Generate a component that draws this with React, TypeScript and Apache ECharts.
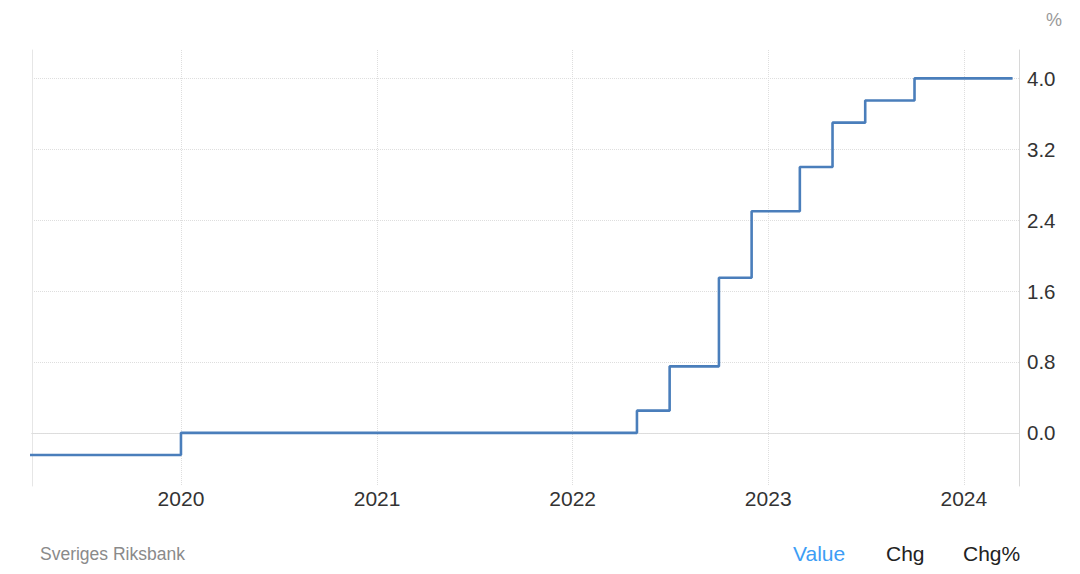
import React, { useEffect, useRef } from "react";
import * as echarts from "echarts";

// Policy rate change points (date the new rate starts, rate in %)
const changeDates = [
  "2019-03-01",
  "2020-01-01",
  "2022-05-01",
  "2022-07-01",
  "2022-10-01",
  "2022-12-01",
  "2023-03-01",
  "2023-05-01",
  "2023-07-01",
  "2023-10-01",
  "2024-04-01",
];
const rates = [-0.25, 0, 0.25, 0.75, 1.75, 2.5, 3.0, 3.5, 3.75, 4.0, 4.0];

const yearTicks = ["2020-01-01", "2021-01-01", "2022-01-01", "2023-01-01", "2024-01-01"];
const valueTicks = [0, 0.8, 1.6, 2.4, 3.2, 4.0];

const xMin = "2019-03-29";
const xMax = "2024-04-13";
const yMin = -0.6;
const yMax = 4.32;

const sourceLabel = "Sveriges Riksbank";
const unitLabel = "%";
const tabLabels = ["Value", "Chg", "Chg%"];

const FONT = "'Liberation Sans', Arial, sans-serif";

const ts = (d: string) => Date.parse(d + "T00:00:00Z");

export default function App() {
  const ref = useRef<HTMLDivElement>(null);

  useEffect(() => {
    if (!ref.current) return;
    const chart = echarts.init(ref.current, null, { renderer: "svg" });
    const seriesData = changeDates.map((d, i) => [ts(d), rates[i]]);
    const yearTs = yearTicks.map(ts);
    const gridColor = "#dedede";

    chart.setOption({
      animation: false,
      backgroundColor: "#ffffff",
      textStyle: { fontFamily: FONT },
      grid: { left: 32, right: 61, top: 50, bottom: 88, show: false },
      xAxis: [
        {
          type: "value",
          min: ts(xMin),
          max: ts(xMax),
          position: "bottom",
          axisLine: { show: true, lineStyle: { color: "#d8d8d8", width: 1 } },
          axisTick: { show: false, customValues: yearTs },
          axisLabel: {
            customValues: yearTs,
            formatter: (v: number) => String(new Date(v).getUTCFullYear()),
            color: "#333333",
            fontSize: 21,
            fontFamily: FONT,
            margin: 2,
            hideOverlap: false,
            showMinLabel: true,
            showMaxLabel: true,
          },
          splitLine: { show: true, lineStyle: { color: gridColor, type: "dotted", width: 1 } },
        },
        {
          type: "value",
          min: ts(xMin),
          max: ts(xMax),
          position: "top",
          axisLine: { show: true, lineStyle: { color: gridColor, type: "dotted", width: 1 } },
          axisTick: { show: false },
          axisLabel: { show: false },
          splitLine: { show: false },
        },
      ],
      yAxis: [
        {
          type: "value",
          min: yMin,
          max: yMax,
          position: "right",
          axisLine: { show: true, lineStyle: { color: "#d8d8d8", width: 1 } },
          axisTick: { show: false, customValues: valueTicks },
          axisLabel: {
            customValues: valueTicks,
            formatter: (v: number) => v.toFixed(1),
            color: "#333333",
            fontSize: 20.5,
            fontFamily: FONT,
            margin: 8,
          },
          splitLine: { show: true, lineStyle: { color: gridColor, type: "dotted", width: 1 } },
        },
        {
          type: "value",
          min: yMin,
          max: yMax,
          position: "left",
          axisLine: { show: true, lineStyle: { color: "#e6e6e6", width: 1 } },
          axisTick: { show: false },
          axisLabel: { show: false },
          splitLine: { show: false },
        },
      ],
      series: [
        {
          type: "line",
          xAxisIndex: 0,
          yAxisIndex: 0,
          data: seriesData,
          step: "end",
          showSymbol: false,
          symbol: "none",
          clip: true,
          lineStyle: { color: "#4a7ebb", width: 2.6 },
        },
      ],
      graphic: [
        {
          type: "text",
          left: 1046,
          top: 11,
          style: { text: unitLabel, fill: "#999999", fontSize: 18, fontFamily: FONT },
        },
        {
          type: "text",
          left: 40,
          top: 545,
          style: { text: sourceLabel, fill: "#8a8a8a", fontSize: 17.5, fontFamily: FONT },
        },
        {
          type: "text",
          left: 793,
          top: 543,
          style: { text: tabLabels[0], fill: "#3d9df5", fontSize: 21, fontFamily: FONT },
        },
        {
          type: "text",
          left: 886,
          top: 543,
          style: { text: tabLabels[1], fill: "#222222", fontSize: 21, fontFamily: FONT },
        },
        {
          type: "text",
          left: 963,
          top: 543,
          style: { text: tabLabels[2], fill: "#222222", fontSize: 21, fontFamily: FONT },
        },
      ],
    });

    return () => chart.dispose();
  }, []);

  return (
    <div
      ref={ref}
      style={{ position: "fixed", left: 0, top: 0, width: 1080, height: 574, background: "#fff" }}
    />
  );
}
